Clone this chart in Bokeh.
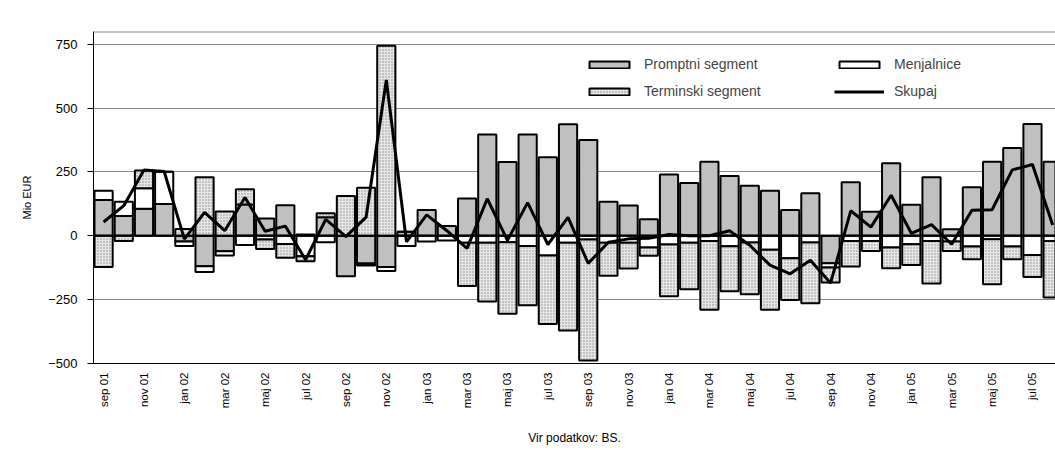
import numpy as np
from math import pi
from bokeh.plotting import figure
from bokeh.models import Range1d, FixedTicker, Span, Legend, LegendItem, ColumnDataSource
from bokeh.embed import file_html
from bokeh.resources import INLINE

months = ["sep 01", "okt 01", "nov 01", "dec 01",
          "jan 02", "feb 02", "mar 02", "apr 02", "maj 02", "jun 02", "jul 02", "avg 02", "sep 02", "okt 02", "nov 02", "dec 02",
          "jan 03", "feb 03", "mar 03", "apr 03", "maj 03", "jun 03", "jul 03", "avg 03", "sep 03", "okt 03", "nov 03", "dec 03",
          "jan 04", "feb 04", "mar 04", "apr 04", "maj 04", "jun 04", "jul 04", "avg 04", "sep 04", "okt 04", "nov 04", "dec 04",
          "jan 05", "feb 05", "mar 05", "apr 05", "maj 05", "jun 05", "jul 05", "avg 05"]

promptni = [140, 78, 106, 125, -22, -119, -60, 123, 68, 120, 5, 73, -158, -108, -122, 16,
            101, 38, 146, 397, 289, 397, 308, 437, 375, 133, 119, 65,
            240, 207, 290, 234, 196, 176, 101, 167, -107, 210, 94, 284,
            122, 229, 26, 190, 290, 344, 438, 290]
menjalnice = [36, 55, 80, 126, -18, -23, -17, -36, -14, -32, -80, -25, 0, -8, -16, -40,
              -22, -18, -27, -27, -25, -40, -77, -27, -14, -27, -27, -46,
              -34, -27, -20, -41, -26, -55, -88, -26, -17, -20, -20, -46,
              -33, -20, -22, -42, -13, -42, -75, -20]
terminski = [-122, -20, 70, 0, 27, 229, 95, 59, -38, -54, -20, 15, 156, 188, 744, 0,
             0, 0, -170, -230, -280, -232, -268, -344, -474, -129, -101, -32,
             -203, -182, -270, -176, -203, -235, -163, -238, -59, -100, -39, -81,
             -81, -167, -37, -50, -177, -50, -86, -222]
skupaj = [54, 118, 258, 252, -13, 92, 20, 150, 18, 38, -94, 64, -3, 73, 610, -24,
          82, 20, -49, 145, -18, 130, -34, 72, -108, -25, -12, -10,
          5, 0, 0, 20, -37, -115, -149, -96, -185, 98, 34, 159,
          10, 44, -33, 100, 102, 258, 279, 42]

y_ticks = [-500, -250, 0, 250, 500, 750]

FONT = "Liberation Sans"
n = len(months)
x = np.arange(n)

# stacking (positive values upward, negative downward, in series order)
pos_base = np.zeros(n)
neg_base = np.zeros(n)
stacks = []
for vals in (promptni, menjalnice, terminski):
    v = np.array(vals, dtype=float)
    bottom = np.where(v >= 0, pos_base, neg_base)
    top = bottom + v
    pos_base = np.where(v >= 0, top, pos_base)
    neg_base = np.where(v < 0, top, neg_base)
    stacks.append(ColumnDataSource(dict(x=x, bottom=bottom, top=top)))

p = figure(width=1055, height=450, output_backend="svg", toolbar_location=None,
           x_range=Range1d(-0.5, 47.14), y_range=Range1d(-500, 800),
           min_border_left=93, min_border_right=0, min_border_top=31, min_border_bottom=87)
p.outline_line_color = None
p.background_fill_color = "white"
p.border_fill_color = "white"

# grid
p.xgrid.visible = False
p.ygrid.ticker = FixedTicker(ticks=[-250, 250, 500, 750])
p.ygrid.grid_line_color = "#8a8a8a"
p.ygrid.grid_line_width = 1
p.add_layout(Span(location=799.5, dimension="width", line_color="#8a8a8a", line_width=1.5))

common = dict(width=0.9, line_color="black", line_width=2)
r_p = p.vbar(x="x", bottom="bottom", top="top", source=stacks[0], fill_color="#c0c0c0", **common)
r_m = p.vbar(x="x", bottom="bottom", top="top", source=stacks[1], fill_color="white", **common)
r_t = p.vbar(x="x", bottom="bottom", top="top", source=stacks[2], fill_color="#e6e6e6",
             hatch_pattern="dot", hatch_color="#8c8c8c", hatch_scale=3, hatch_weight=0.6, **common)

p.add_layout(Span(location=0, dimension="width", line_color="black", line_width=2))

r_s = p.line(x, skupaj, line_color="black", line_width=3)

# axes
p.yaxis.ticker = FixedTicker(ticks=y_ticks)
p.yaxis.axis_line_color = "black"
p.yaxis.major_tick_out = 6
p.yaxis.major_tick_in = 0
p.yaxis.minor_tick_out = 0
p.yaxis.minor_tick_in = 0
p.yaxis.major_label_standoff = 10
p.yaxis.major_label_text_font = FONT
p.yaxis.major_label_text_font_size = "13px"
p.yaxis.major_label_text_color = "black"
p.yaxis.axis_label = "Mio EUR"
p.yaxis.axis_label_standoff = 12
p.yaxis.axis_label_text_font = FONT
p.yaxis.axis_label_text_font_size = "11px"
p.yaxis.axis_label_text_font_style = "normal"
p.yaxis.axis_label_text_color = "black"

p.xaxis.ticker = FixedTicker(ticks=[i for i in range(0, n, 2)])
p.xaxis.major_label_overrides = {i: months[i] for i in range(0, n, 2)}
p.xaxis.major_label_orientation = pi / 2
p.xaxis.axis_line_color = "black"
p.xaxis.major_tick_out = 0
p.xaxis.major_tick_in = 0
p.xaxis.minor_tick_out = 0
p.xaxis.minor_tick_in = 0
p.xaxis.major_label_standoff = 9
p.xaxis.major_label_text_font = FONT
p.xaxis.major_label_text_font_size = "11.5px"
p.xaxis.major_label_text_color = "black"
p.xaxis.axis_label = "Vir podatkov: BS."
p.xaxis.axis_label_standoff = 20
p.xaxis.axis_label_text_font = FONT
p.xaxis.axis_label_text_font_size = "12px"
p.xaxis.axis_label_text_font_style = "normal"
p.xaxis.axis_label_text_color = "black"

# legend: two columns
leg_common = dict(padding=0, margin=0, spacing=11, glyph_width=50, glyph_height=9,
                  label_height=9, label_standoff=10, border_line_color=None,
                  background_fill_alpha=0, label_text_font=FONT, label_text_font_size="14px",
                  label_text_baseline="middle")
leg1 = Legend(items=[LegendItem(label="Promptni segment", renderers=[r_p]),
                     LegendItem(label="Terminski segment", renderers=[r_t])],
              location=(491, 264), **leg_common)
leg2 = Legend(items=[LegendItem(label="Menjalnice", renderers=[r_m]),
                     LegendItem(label="Skupaj", renderers=[r_s])],
              location=(741, 264), **leg_common)
p.add_layout(leg1)
p.add_layout(leg2)

open("out.html", "w").write(file_html(p, INLINE))
